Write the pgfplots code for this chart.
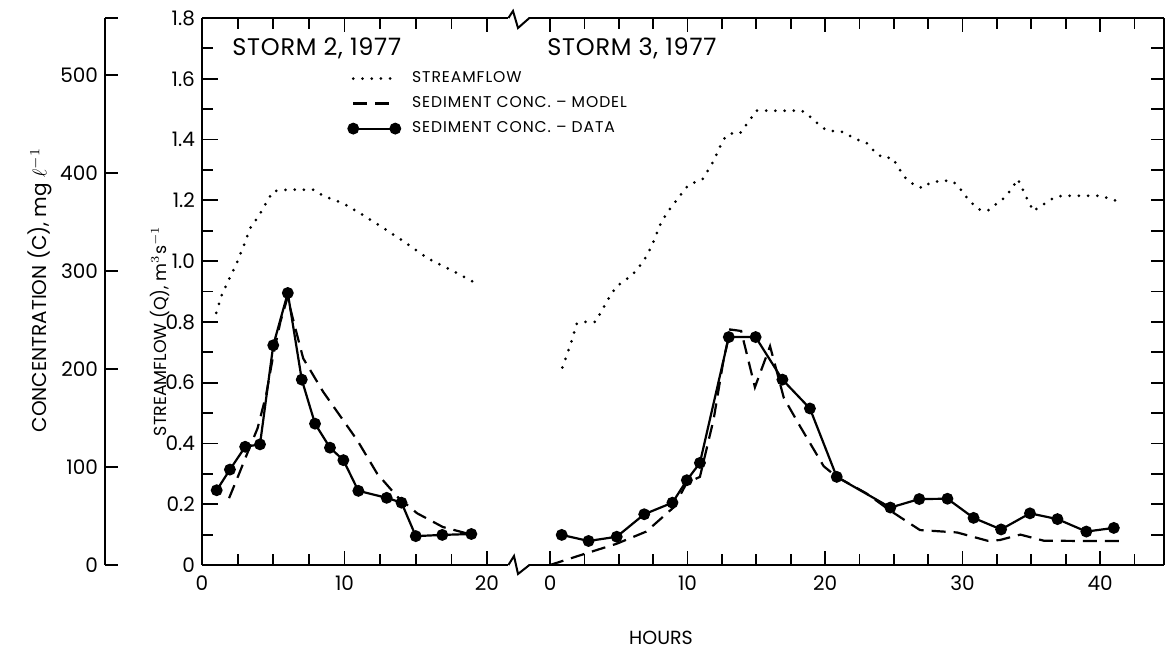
\documentclass[border=0pt]{standalone}
\usepackage{pgfplots}
\pgfplotsset{compat=1.18}
\usepackage{fontspec}
\setmainfont{Poppins}
\begin{document}
\begin{tikzpicture}
\useasboundingbox (0,0) rectangle (582.5pt,325.5pt);
\pgfplotsset{
  every axis/.append style={scale only axis, tick align=inside,
    axis line style={line width=1pt, black},
    tick style={line width=0.9pt, black},
    tick label style={font=\fontsize{10}{11}\selectfont},
    major tick length=8pt, minor tick length=5.5pt},
  streamflow/.style={black, line width=1.5pt, line cap=round, dash pattern=on 0pt off 4.6pt},
  model/.style={black, line width=1.1pt, dash pattern=on 7pt off 4pt},
  data/.style={black, line width=1.1pt, mark=*, mark size=2.4pt, mark options={solid}},
}
% concentration axis
\begin{axis}[at={(52.5pt,43pt)}, anchor=south west, width=1pt, height=273.5pt,
  xmin=0, xmax=1, ymin=0, ymax=558.2,
  axis y line*=left, axis x line=none, xtick=\empty,
  ytick={0,100,200,300,400,500}, yticklabels={0,100,200,300,400,500},
  extra y ticks={558.2}, extra y tick labels={},
  ytick pos=left, major tick length=6.5pt]
\end{axis}
% storm 2
\begin{axis}[at={(101pt,43pt)}, anchor=south west, width=153.2pt, height=273.5pt,
  xmin=0, xmax=21.5, ymin=0, ymax=1.8,
  axis x line*=box, axis y line*=left, xtick pos=both, ytick pos=left,
  xtick={0,10,20}, xticklabels={0,10,20},
  minor xtick={2.5,5,7.5,12.5,15,17.5},
  ytick={0,0.2,0.4,0.6,0.8,1.0,1.2,1.4,1.6,1.8},
  yticklabels={0,0.2,0.4,0.6,0.8,1.0,1.2,1.4,1.6,1.8},
  minor ytick={0.1,0.3,0.5,0.7,0.9,1.1,1.3,1.5,1.7},
  xtick style={/pgfplots/major tick length=7pt},
  xticklabel style={yshift=-2pt},
  legend style={at={(axis cs:10.25,1.625)}, anchor=north west, draw=none, fill=none,
    inner sep=0pt, row sep=5.5pt, font=\fontsize{7.8}{8}\selectfont\addfontfeatures{LetterSpace=6},
    nodes={inner sep=0pt},
    /tikz/every odd column/.append style={column sep=6pt}},
  legend cell align=left,
  legend image code/.code={\draw[#1,mark repeat=1] plot coordinates {(0pt,0pt) (21pt,0pt)};},
]
\addplot[streamflow] coordinates {(1.0,0.83) (1.4,0.89) (2.0,0.95) (2.5,1.0) (3.0,1.06) (3.4,1.11) (4.0,1.15) (4.6,1.20) (5.0,1.23) (6.0,1.235) (7.0,1.235) (7.8,1.235) (8.5,1.215) (9.9,1.19) (11,1.16) (12.7,1.11) (14.3,1.06) (15.8,1.01) (17.5,0.97) (19.3,0.925)};
\addplot[model] coordinates {(1.9,0.22) (2.6,0.30) (3.2,0.37) (3.9,0.45) (4.5,0.56) (5.0,0.69) (5.5,0.80) (6.0,0.88) (6.6,0.77) (7.1,0.68) (8.5,0.57) (9.7,0.49) (10.9,0.41) (12.3,0.30) (13.7,0.225) (15.1,0.17) (16.9,0.125) (18.9,0.10)};
\addplot[data] coordinates {(1.03,0.246) (1.96,0.314) (3.03,0.389) (4.07,0.397) (5.0,0.723) (6.02,0.895) (7.0,0.61) (7.93,0.465) (8.98,0.386) (9.92,0.345) (10.97,0.244) (12.96,0.221) (14.0,0.205) (15.0,0.095) (16.86,0.099) (18.9,0.102)};
\legend{STREAMFLOW, SEDIMENT CONC. – MODEL, SEDIMENT CONC. – DATA}
\end{axis}
% storm 3
\begin{axis}[at={(264.7pt,43pt)}, anchor=south west, width=317.3pt, height=273.5pt,
  xmin=-1.5, xmax=44.65, ymin=0, ymax=1.8,
  axis x line*=box, axis y line*=right, xtick pos=both, ytick pos=right,
  xtick={0,10,20,30,40}, xticklabels={0,10,20,30,40},
  minor xtick={2.5,5,7.5,12.5,15,17.5,22.5,25,27.5,32.5,35,37.5,42.5},
  xtick style={/pgfplots/major tick length=7pt},
  xticklabel style={yshift=-2pt},
  ytick={0.2,0.4,0.6,0.8,1.0,1.2,1.4,1.6}, yticklabels={},
  ytick style={/pgfplots/major tick length=6.5pt},
  extra y ticks={0.1,0.3,0.5,0.7,0.9,1.1,1.3,1.5,1.7}, extra y tick labels={},
  extra y tick style={/pgfplots/major tick length=3.5pt},
]
\addplot[streamflow] coordinates {(0.9,0.65) (1.45,0.72) (1.95,0.795) (2.5,0.80) (3.3,0.80) (3.8,0.84) (4.3,0.88) (4.8,0.915) (6.0,0.955) (6.8,1.0) (7.4,1.05) (8.1,1.13) (8.85,1.18) (10.05,1.25) (11.1,1.27) (11.9,1.33) (12.6,1.40) (13.1,1.42) (13.8,1.42) (14.3,1.45) (15.0,1.495) (18.3,1.495) (18.8,1.48) (19.4,1.455) (20.1,1.43) (21.3,1.425) (22.3,1.40) (23.0,1.39) (23.6,1.36) (24.2,1.34) (24.9,1.34) (25.45,1.30) (25.9,1.27) (26.5,1.25) (27.1,1.24) (27.6,1.257) (28.5,1.265) (29.3,1.263) (29.8,1.24) (30.2,1.215) (30.7,1.19) (31.2,1.17) (31.8,1.165) (32.5,1.19) (33.1,1.21) (33.6,1.24) (34.0,1.27) (34.3,1.245) (34.5,1.22) (34.9,1.19) (35.1,1.165) (35.5,1.175) (36.0,1.19) (36.6,1.207) (37.2,1.215) (39.95,1.215) (40.6,1.207) (41.4,1.195)};
\addplot[model] coordinates {(0,0) (2.4,0.035) (4.85,0.07) (7.0,0.11) (9.0,0.19) (9.94,0.27) (10.9,0.29) (11.9,0.48) (12.6,0.67) (13.1,0.775) (13.9,0.77) (14.9,0.585) (16.0,0.72) (17.0,0.55) (18.2,0.455) (19.9,0.325) (20.85,0.29) (23.0,0.236) (24.7,0.18) (26.9,0.115) (29.6,0.107) (31.8,0.08) (32.7,0.082) (34.2,0.10) (35.9,0.08) (38.8,0.079) (41.5,0.079)};
\addplot[data] coordinates {(0.85,0.099) (2.8,0.079) (4.85,0.093) (6.85,0.167) (8.9,0.205) (9.95,0.279) (10.9,0.336) (13.0,0.75) (14.95,0.75) (16.9,0.61) (18.9,0.515) (20.85,0.29) (24.75,0.189) (26.85,0.217) (28.9,0.218) (30.8,0.155) (32.8,0.117) (34.9,0.17) (36.9,0.151) (39.0,0.11) (41.0,0.122)};
\end{axis}
\begin{scope}[x=0.5pt,y=-0.5pt,yshift=325.5pt]
\draw[line width=1pt] (508.4,18) -- (513,11) -- (518,28) -- (529.4,18);
\draw[line width=1pt] (508.4,565) -- (514,556) -- (518,574) -- (529.4,565);
\node[anchor=west, font=\fontsize{12}{13}\selectfont\addfontfeatures{LetterSpace=3}, inner sep=0pt] at (232,48) {STORM 2, 1977};
\node[anchor=west, font=\fontsize{12}{13}\selectfont\addfontfeatures{LetterSpace=3}, inner sep=0pt] at (547,48) {STORM 3, 1977};
\node[rotate=90, font=\fontsize{10}{11}\selectfont] at (40,290) {CONCENTRATION (C), mg $\ell^{-1}$};
\node[rotate=90, font=\fontsize{8.7}{10}\selectfont] at (160,331) {STREAMFLOW (Q), m$^{3}$s$^{-1}$};
\node[font=\fontsize{9.5}{10}\selectfont] at (661,638) {HOURS};
\end{scope}
\end{tikzpicture}
\end{document}
